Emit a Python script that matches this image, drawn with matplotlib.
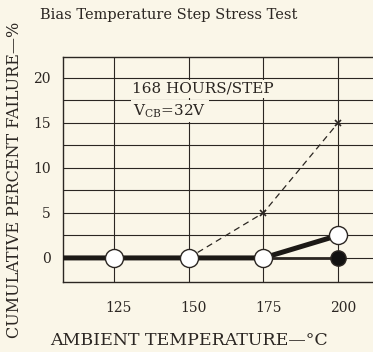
import matplotlib
matplotlib.use("Agg")
import matplotlib.pyplot as plt
import matplotlib.transforms as mtransforms

# step-stress results, cumulative % failed after each 168 h step
temps_open = [100, 125, 150, 175, 200]
fail_open = [0, 0, 0, 0, 2.5]
temps_filled = [175, 200]
fail_filled = [0, 0]
temps_cross = [150, 175, 200]
fail_cross = [0, 5, 15]

x_ticks = [125, 150, 175, 200]
y_ticks = [0, 5, 10, 15, 20]
y_minor = [2.5, 7.5, 12.5, 17.5]

BG = "#faf6e8"
INK = "#2b2622"

plt.rcParams["font.family"] = ["DejaVu Serif"]
fig = plt.figure(figsize=(3.73, 3.52), dpi=100, facecolor=BG)
ax = fig.add_axes([0.169, 0.199, 0.831, 0.639], facecolor=BG)

ax.set_xlim(108.0, 211.7)
ax.set_ylim(-2.67, 22.33)
ax.set_xticks(x_ticks)
ax.set_yticks(y_ticks)
ax.set_yticks(y_minor, minor=True)
ax.grid(True, which="both", color=INK, lw=0.8)
ax.set_axisbelow(True)
ax.tick_params(which="both", length=0, colors=INK, labelsize=10)
ax.tick_params(axis="y", pad=9)
ax.tick_params(axis="x", pad=14)
for lab in ax.get_xticklabels():
    lab.set_transform(lab.get_transform() +
                      mtransforms.ScaledTranslation(5 / 100, 0, fig.dpi_scale_trans))
for side in ("left", "bottom", "top"):
    ax.spines[side].set_color(INK)
    ax.spines[side].set_linewidth(1.0)
ax.spines["right"].set_visible(False)

ax.plot(temps_cross, fail_cross, ls=(0, (5, 3.5)), lw=0.9, color=INK,
        marker="x", ms=5, mew=1.2, zorder=3)
ax.plot(temps_filled, fail_filled, lw=2.0, color=INK, marker="o", ms=11,
        markevery=[1], mfc="#111111", mec=INK, zorder=4)
ax.plot(temps_open, fail_open, lw=3.6, color="#1c1916", solid_capstyle="butt",
        marker="o", ms=13, markevery=[1, 2, 3, 4], mfc="white", mec=INK,
        mew=1.0, zorder=5)

box = dict(facecolor=BG, edgecolor="none", pad=1.5)
ax.text(131, 18.8, "168 HOURS/STEP", fontsize=11, color=INK, va="center",
        bbox=box, zorder=6)
ax.text(131.5, 16.3, r"V$_{\mathregular{CB}}$=32V", fontsize=11, color=INK,
        va="center", bbox=box, zorder=6)

fig.text(0.107, 0.957, "Bias Temperature Step Stress Test", fontsize=10.5,
         color=INK, va="center", ha="left")
fig.text(0.134, 0.034, "AMBIENT TEMPERATURE—°C", fontsize=12.5, color=INK,
         va="center", ha="left")
fig.text(0.040, 0.49, "CUMULATIVE PERCENT FAILURE—%", fontsize=11.5,
         color=INK, va="center", ha="center", rotation=90)

fig.savefig("out.png", dpi=100, facecolor=BG)
